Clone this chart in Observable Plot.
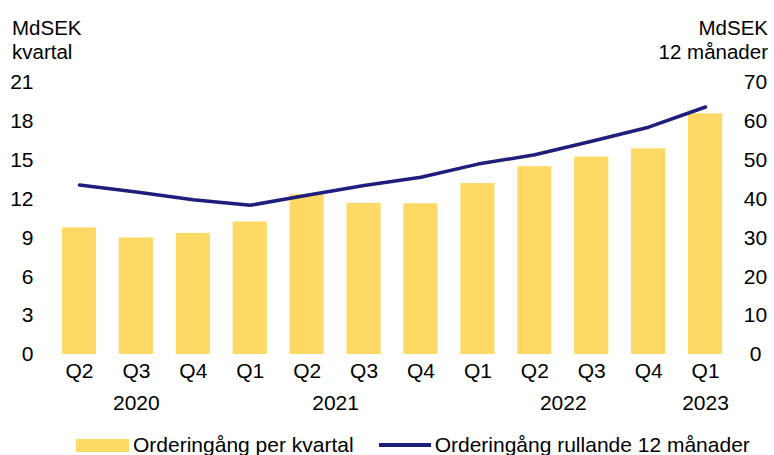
<!DOCTYPE html>
<html>
<head>
<meta charset="utf-8">
<script src="https://cdn.jsdelivr.net/npm/d3@7"></script>
<script src="https://cdn.jsdelivr.net/npm/@observablehq/plot@0.6"></script>
<style>
  html, body { margin: 0; padding: 0; background: #fff; }
  #wrap { position: relative; width: 774px; height: 455px; overflow: hidden; font-family: "Liberation Sans", Arial, sans-serif; color: #000; }
  .lbl { position: absolute; font-size: 20.5px; line-height: 24px; white-space: nowrap; }
  .legend { position: absolute; top: 433px; left: 0; width: 774px; height: 24px; font-size: 21px; line-height: 24px; display: flex; align-items: center; white-space: nowrap; }
  .sw { display: inline-block; flex: none; }
</style>
</head>
<body>
<div id="wrap">
  <div class="lbl" style="left:12px; top:16px;">MdSEK<br>kvartal</div>
  <div class="lbl" style="right:6px; top:16px; text-align:right;">MdSEK<br>12 månader</div>
  <div class="legend">
    <span class="sw" style="margin-left:76px; width:53px; height:13px; background:#FFD966;"></span>
    <span style="margin-left:4px;">Orderingång per kvartal</span>
    <span class="sw" style="margin-left:25px; width:52px; height:3.5px; background:#201E7C;"></span>
    <span style="margin-left:4px;">Orderingång rullande 12 månader</span>
  </div>
</div>
<script>
const quarters = ["Q2","Q3","Q4","Q1","Q2","Q3","Q4","Q1","Q2","Q3","Q4","Q1"];
const years    = ["2020","2020","2020","2021","2021","2021","2021","2022","2022","2022","2022","2023"];
const perQuarter = [9.77, 9.0, 9.35, 10.23, 12.34, 11.67, 11.64, 13.2, 14.5, 15.24, 15.88, 18.58];
const rolling12  = [43.6, 41.8, 39.8, 38.4, 41.0, 43.5, 45.6, 49.0, 51.4, 54.9, 58.5, 63.7];
const leftTicks  = [0, 3, 6, 9, 12, 15, 18, 21];
const rightTicks = [0, 10, 20, 30, 40, 50, 60, 70];
const yearsOnCategory = [{label: "2020", at: "2020 Q3"}, {label: "2023", at: "2023 Q1"}];
const yearsBetween    = [{label: "2021", at: "2021 Q2"}, {label: "2022", at: "2022 Q2"}];

const keys = quarters.map((q, i) => `${years[i]} ${q}`);
const data = keys.map((k, i) => ({key: k, bar: perQuarter[i], roll: rolling12[i]}));
const ratio = 21 / 70;

const W = 774, H = 455;
const mL = 50.5, mR = 40.5, mT = 82, mB = 101;
const step = (W - mL - mR) / keys.length;
const fs = 21;

const chart = Plot.plot({
  width: W,
  height: H,
  marginLeft: mL,
  marginRight: mR,
  marginTop: mT,
  marginBottom: mB,
  style: {fontFamily: "'Liberation Sans', Arial, sans-serif", fontSize: fs + "px", color: "#000", background: "transparent"},
  x: {domain: keys, paddingInner: 0.4, paddingOuter: 0.2, round: false, label: null},
  y: {domain: [0, 21], label: null},
  marks: [
    Plot.gridY(leftTicks, {stroke: "#C0C0C0", strokeOpacity: 1, strokeWidth: 1.3, x1: mL + 2.5, x2: W - mR - 3.5}),
    Plot.barY(data, {x: "key", y: "bar", fill: "#FFD966"}),
    Plot.lineY(data, {x: "key", y: d => d.roll * ratio, stroke: "#201E7C", strokeWidth: 3.5}),
    Plot.axisY(leftTicks, {anchor: "left", tickSize: 0, tickPadding: 0, dx: -17.5, label: null, fontSize: fs, textAnchor: "end"}),
    Plot.axisY(rightTicks.map(v => v * ratio), {anchor: "right", tickSize: 0, tickPadding: 0, dx: 21.5, label: null, fontSize: fs, textAnchor: "middle", tickFormat: d => String(Math.round(d / ratio))}),
    Plot.axisX({tickSize: 0, tickPadding: 9, label: null, fontSize: fs, tickFormat: k => k.split(" ")[1]}),
    Plot.text(yearsOnCategory, {x: "at", text: "label", frameAnchor: "bottom", dy: 55, fontSize: fs}),
    Plot.text(yearsBetween, {x: "at", text: "label", frameAnchor: "bottom", dy: 55, dx: step / 2, fontSize: fs})
  ]
});
document.getElementById("wrap").prepend(chart);
chart.style.position = "absolute";
chart.style.left = "0";
chart.style.top = "0";
</script>
</body>
</html>
